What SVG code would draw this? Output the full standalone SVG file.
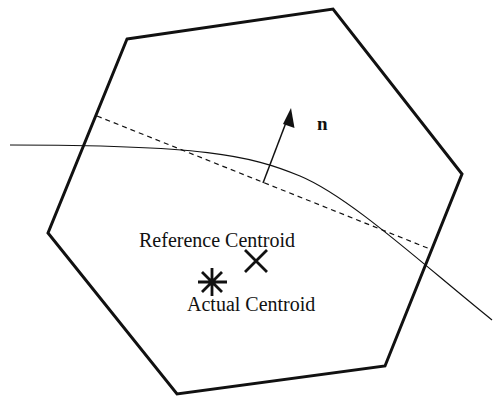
<svg xmlns="http://www.w3.org/2000/svg" width="494" height="397" viewBox="0 0 494 397">
<defs>
<style>
.cell{fill:none;stroke:#111;stroke-width:3;stroke-linejoin:miter}
.curve{fill:none;stroke:#111;stroke-width:1.2}
.dash{fill:none;stroke:#111;stroke-width:1.2;stroke-dasharray:5,4}
.mark{fill:none;stroke:#111;stroke-width:2.8}
.lbl{font-family:"Liberation Serif","Times New Roman",serif;font-size:20px;fill:#111}
.bold{font-weight:bold;font-size:19px}
</style>
</defs>
<rect width="494" height="397" fill="#fff"/>
<g id="cell">
<polygon class="cell" points="127,39 333,9 462,174 385,366 177,394 48,233"/>
</g>
<g id="connectors">
<path class="curve" d="M10,145 C200,145 250,155 300,176 S420,262 492,320"/>
<line class="dash" x1="97" y1="116" x2="430" y2="249"/>
<line x1="263" y1="183" x2="287" y2="120" stroke="#111" stroke-width="1.5"/>
<path d="M291,108 L294.5,128 L283,124 Z" fill="#111"/>
</g>
<g id="normal-label">
<text class="lbl bold" x="317" y="130">n</text>
</g>
<g id="reference-centroid">
<path class="mark" d="M245,250 L267,272 M267,250 L245,272"/>
<text class="lbl" x="139" y="247">Reference Centroid</text>
</g>
<g id="actual-centroid">
<path class="mark" d="M198,282 L227,282 M212,268 L212,296 M202,272 L222,292 M222,272 L202,292"/>
<text class="lbl" x="187" y="311">Actual Centroid</text>
</g>
</svg>
